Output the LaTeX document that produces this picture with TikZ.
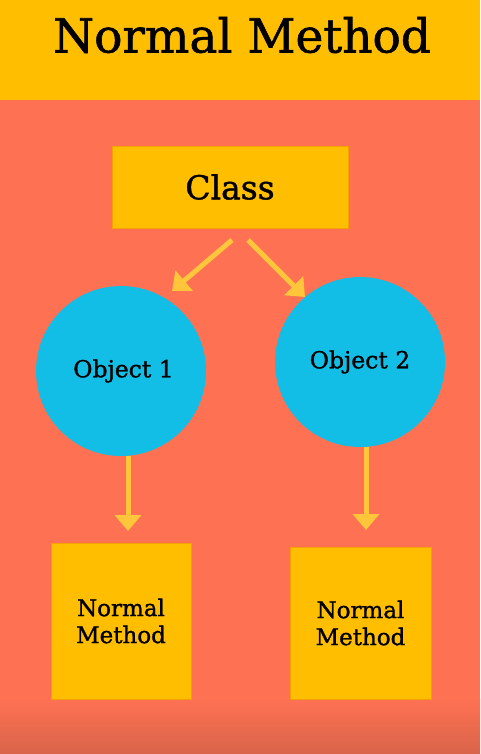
\documentclass[tikz,border=0pt]{standalone}
\usepackage{fontspec}
\setmainfont{DejaVu Serif}[UprightFeatures={FakeBold=1.2}]
\usetikzlibrary{arrows.meta}
\definecolor{bandyellow}{HTML}{FFBF00}
\definecolor{bgorange}{HTML}{FE7153}
\definecolor{bgdark}{HTML}{D9644A}
\definecolor{objcyan}{HTML}{12BEE6}
\definecolor{arrowyellow}{HTML}{FFC63C}
\definecolor{edgeorange}{HTML}{F4A000}
\tikzset{
  box/.style={fill=bandyellow, draw=edgeorange, line width=0.8pt, align=center, inner sep=0pt},
  obj/.style={circle, fill=objcyan, minimum size=170pt, inner sep=0pt, font=\fontsize{23.5}{28}\selectfont},
  link/.style={draw=arrowyellow, line width=5pt, -{Triangle[width=26pt,length=16pt]}}
}
\begin{document}
\begin{tikzpicture}[x=1pt,y=-1pt]
  % page and background
  \useasboundingbox (0,0) rectangle (480,754);
  \fill[bgorange] (0,0) rectangle (480,700);
  \shade[top color=bgorange, bottom color=bgdark] (0,699) rectangle (480,754);
  % title band
  \fill[bandyellow] (0,0) rectangle (480,100);
  \node[font=\fontsize{47}{56}\selectfont] (title) at (242,35) {Normal Method};

  % class box
  \node[box, minimum width=236pt, minimum height=82pt, font=\fontsize{33}{40}\selectfont] (class) at (230,187) {Class};

  % objects
  \node[obj] (o1) at (121,371) {\hspace*{5pt}Object 1};
  \node[obj] (o2) at (360,362) {Object 2};

  % method boxes
  \node[box, minimum width=140pt, minimum height=156pt, font=\fontsize{23}{27}\selectfont] (m1) at (121,621) {Normal\\Method};
  \node[box, minimum width=141pt, minimum height=152pt, font=\fontsize{23}{27}\selectfont] (m2) at (360.5,623) {Normal\\Method};

  % connectors
  \coordinate (c1) at (232,240);
  \coordinate (c2) at (248,240);
  \coordinate (a1) at (172,291);
  \coordinate (a2) at (305,297);
  \draw[link] (c1) -- (a1);
  \draw[link] (c2) -- (a2);
  \coordinate (d1) at (128,531);
  \coordinate (d2) at (366,530);
  \draw[link] (o1.south -| d1) -- (d1);
  \draw[link] (o2.south -| d2) -- (d2);
\end{tikzpicture}
\end{document}
